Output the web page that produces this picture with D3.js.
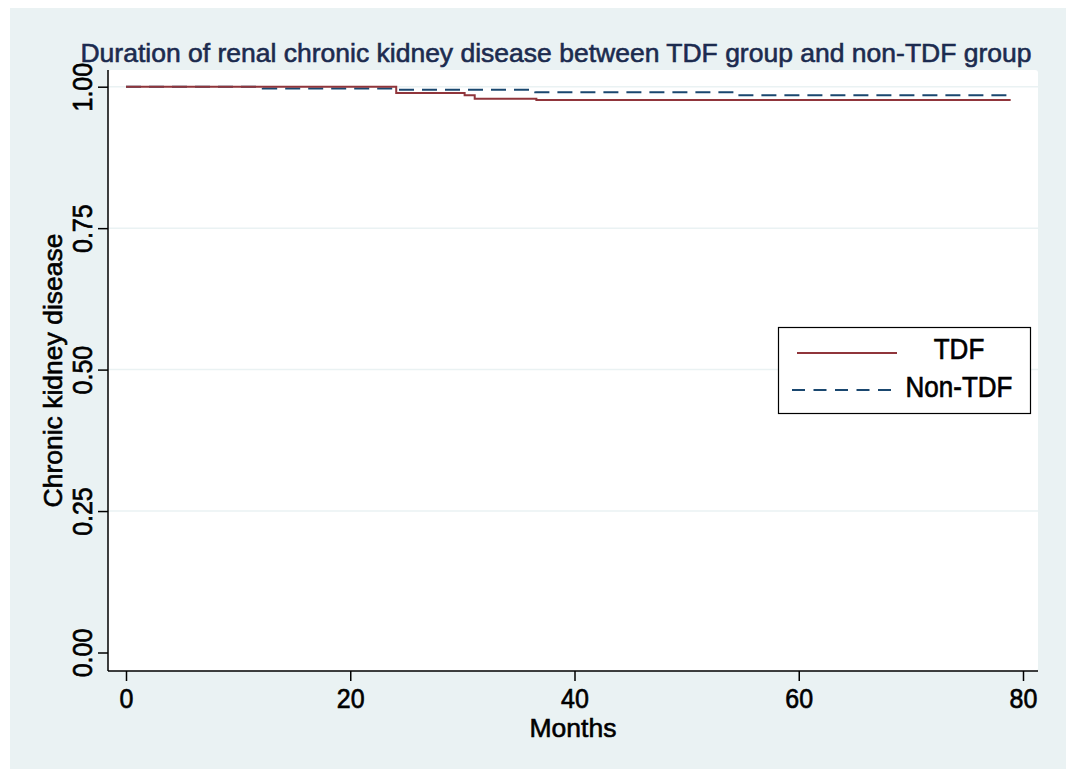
<!DOCTYPE html>
<html>
<head>
<meta charset="utf-8">
<title>Duration of renal chronic kidney disease</title>
<script src="https://d3js.org/d3.v7.min.js"></script>
<style>
  body { margin: 0; background: #ffffff; }
  svg text { font-family: "Liberation Sans", Arial, sans-serif; }
</style>
</head>
<body>
<div id="chart"></div>
<script>
// Kaplan-Meier steps
var tdfMonths = [0, 24.1, 30.2, 31.1, 36.6, 78.9];
var tdfSurv   = [1.0, 0.9887, 0.9848, 0.9788, 0.9765, 0.9765];
var nonMonths = [0, 12.2, 24.2, 36.5, 54.6, 78.9];
var nonSurv   = [1.0, 0.9968, 0.9947, 0.9901, 0.9848, 0.9848];

var xTicks = [0, 20, 40, 60, 80];
var yTicks = [0, 0.25, 0.5, 0.75, 1];
var seriesNames = ["TDF", "Non-TDF"];

var width = 1066, height = 769;
var plot = { left: 108, right: 1038, top: 70, bottom: 671 };

var svg = d3.select("#chart").append("svg")
    .attr("width", width)
    .attr("height", height);

// graph region
svg.append("rect")
    .attr("x", 10).attr("y", 8)
    .attr("width", width - 10).attr("height", height - 8)
    .attr("fill", "#eaf2f3");

// plot region
svg.append("rect")
    .attr("x", plot.left).attr("y", plot.top)
    .attr("width", plot.right - plot.left).attr("height", plot.bottom - plot.top)
    .attr("rx", 3)
    .attr("fill", "#ffffff");

var x = d3.scaleLinear().domain([0, 80]).range([126, 1023]);
var y = d3.scaleLinear().domain([0, 1]).range([652.5, 86.7]);

// gridlines
svg.selectAll("line.grid")
    .data(yTicks.filter(function (d) { return d > 0; }))
    .enter().append("line")
    .attr("class", "grid")
    .attr("x1", plot.left).attr("x2", plot.right)
    .attr("y1", function (d) { return y(d); })
    .attr("y2", function (d) { return y(d); })
    .attr("stroke", "#eaf2f3")
    .attr("stroke-width", 1.5);

// lines
var line = d3.line()
    .curve(d3.curveStepAfter)
    .x(function (d) { return x(d[0]); })
    .y(function (d) { return y(d[1]); });

var tdfData = d3.zip(tdfMonths, tdfSurv);
var nonData = d3.zip(nonMonths, nonSurv);

svg.append("path")
    .datum(nonData)
    .attr("d", line)
    .attr("fill", "none")
    .attr("stroke", "#1a476f")
    .attr("stroke-width", 2)
    .attr("stroke-dasharray", "15,8");

svg.append("path")
    .datum(tdfData)
    .attr("d", line)
    .attr("fill", "none")
    .attr("stroke", "#90353b")
    .attr("stroke-width", 2);

// axes
var xAxis = d3.axisBottom(x).tickValues(xTicks).tickSize(10).tickSizeOuter(0)
    .tickFormat(d3.format("d"));
var gx = svg.append("g")
    .attr("transform", "translate(0," + plot.bottom + ")")
    .call(xAxis);
gx.select(".domain").attr("d", "M" + plot.left + ",0H" + plot.right)
    .attr("stroke", "#000").attr("stroke-width", 1.5);
gx.selectAll(".tick line").attr("stroke", "#000").attr("stroke-width", 1.5);
gx.selectAll(".tick text")
    .attr("y", 0).attr("dy", 0)
    .attr("transform", "translate(0,36.5) scale(1,1.1)")
    .attr("fill", "#000")
    .attr("stroke", "#000").attr("stroke-width", 0.6)
    .style("font-size", "25px");

var yAxis = d3.axisLeft(y).tickValues(yTicks).tickSize(10).tickSizeOuter(0)
    .tickFormat(d3.format(".2f"));
var gy = svg.append("g")
    .attr("transform", "translate(" + plot.left + ",0)")
    .call(yAxis);
gy.select(".domain").attr("d", "M0," + plot.top + "V" + plot.bottom)
    .attr("stroke", "#000").attr("stroke-width", 1.5);
gy.selectAll(".tick line").attr("stroke", "#000").attr("stroke-width", 1.5);
gy.selectAll(".tick text")
    .attr("x", 0).attr("dy", 0)
    .attr("transform", "translate(-16,0) rotate(-90) scale(1,1.1)")
    .attr("text-anchor", "middle")
    .attr("fill", "#000")
    .attr("stroke", "#000").attr("stroke-width", 0.6)
    .style("font-size", "25px");

// titles
svg.append("text")
    .attr("x", 556).attr("y", 62)
    .attr("text-anchor", "middle")
    .attr("fill", "#1c2b4f")
    .attr("stroke", "#1c2b4f").attr("stroke-width", 0.6)
    .style("font-size", "26.5px")
    .text("Duration of renal chronic kidney disease between TDF group and non-TDF group");

svg.append("text")
    .attr("x", (plot.left + plot.right) / 2).attr("y", 736.5)
    .attr("text-anchor", "middle")
    .attr("fill", "#000")
    .attr("stroke", "#000").attr("stroke-width", 0.6)
    .style("font-size", "26.5px")
    .text("Months");

svg.append("text")
    .attr("transform", "translate(62," + ((plot.top + plot.bottom) / 2) + ") rotate(-90)")
    .attr("text-anchor", "middle")
    .attr("fill", "#000")
    .attr("stroke", "#000").attr("stroke-width", 0.6)
    .style("font-size", "26.5px")
    .text("Chronic kidney disease");

// legend
var legend = svg.append("g");
legend.append("rect")
    .attr("x", 778.5).attr("y", 327.5)
    .attr("width", 252).attr("height", 86)
    .attr("fill", "#fff")
    .attr("stroke", "#000")
    .attr("stroke-width", 1.2);

var legendRows = [
    { name: seriesNames[0], color: "#90353b", dash: null, y: 353, x1: 797, x2: 897, ty: 359 },
    { name: seriesNames[1], color: "#1a476f", dash: "13,8.5", y: 390, x1: 792, x2: 892, ty: 397 }
];
legend.selectAll("line.key")
    .data(legendRows).enter().append("line")
    .attr("class", "key")
    .attr("x1", function (d) { return d.x1; })
    .attr("x2", function (d) { return d.x2; })
    .attr("y1", function (d) { return d.y; })
    .attr("y2", function (d) { return d.y; })
    .attr("stroke", function (d) { return d.color; })
    .attr("stroke-width", 2)
    .attr("stroke-dasharray", function (d) { return d.dash; });
legend.selectAll("text.key")
    .data(legendRows).enter().append("text")
    .attr("class", "key")
    .attr("x", 0).attr("y", 0)
    .attr("transform", function (d) { return "translate(959," + d.ty + ") scale(1,1.1)"; })
    .attr("text-anchor", "middle")
    .attr("fill", "#000")
    .attr("stroke", "#000").attr("stroke-width", 0.6)
    .style("font-size", "26px")
    .text(function (d) { return d.name; });
</script>
</body>
</html>
